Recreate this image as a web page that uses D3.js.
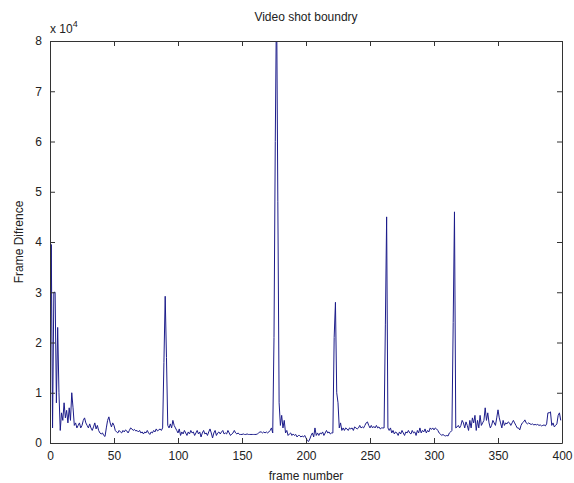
<!DOCTYPE html>
<html>
<head>
<meta charset="utf-8">
<script src="https://cdn.jsdelivr.net/npm/d3@7"></script>
<style>
  body { margin: 0; background: #fff; }
  text { font-family: "Liberation Sans", Arial, sans-serif; fill: #222; }
</style>
</head>
<body>
<svg id="chart"></svg>
<script>
// frame difference values, in units of 10^4, one per frame starting at frame 0
const frameDiff = [
  0.5, 3.95, 0.3, 3.0, 3.0, 0.8, 2.3, 1.0, 0.25, 0.6,
  0.45, 0.8, 0.5, 0.65, 0.4, 0.7, 0.45, 1.0, 0.7, 0.35,
  0.4, 0.3, 0.35, 0.4, 0.3, 0.35, 0.45, 0.5, 0.4, 0.35,
  0.3, 0.38, 0.3, 0.25, 0.32, 0.4, 0.28, 0.35, 0.25, 0.2,
  0.18, 0.2, 0.15, 0.13, 0.3, 0.45, 0.52, 0.4, 0.32, 0.4,
  0.35, 0.25, 0.22, 0.2, 0.25, 0.22, 0.2, 0.25, 0.22, 0.26,
  0.24, 0.2, 0.25, 0.3, 0.28, 0.25, 0.27, 0.24, 0.25, 0.22,
  0.25, 0.2, 0.22, 0.18, 0.22, 0.2, 0.25, 0.2, 0.17, 0.22,
  0.2, 0.25, 0.22, 0.28, 0.24, 0.26, 0.28, 0.25, 0.3, 1.6,
  2.92, 1.7, 0.35, 0.3, 0.38, 0.3, 0.45, 0.35, 0.3, 0.25,
  0.2, 0.28, 0.15, 0.22, 0.18, 0.25, 0.2, 0.15, 0.22, 0.18,
  0.25, 0.2, 0.22, 0.15, 0.2, 0.25, 0.18, 0.22, 0.12, 0.2,
  0.25, 0.18, 0.2, 0.15, 0.22, 0.28, 0.2, 0.1, 0.2, 0.25,
  0.15, 0.2, 0.22, 0.18, 0.22, 0.25, 0.18, 0.2, 0.18, 0.25,
  0.2, 0.15, 0.18, 0.2, 0.25, 0.2, 0.18, 0.2, 0.17, 0.17,
  0.17, 0.18, 0.17, 0.17, 0.18, 0.17, 0.17, 0.17, 0.17, 0.17,
  0.17, 0.17, 0.18, 0.2, 0.22, 0.22, 0.2, 0.22, 0.2, 0.22,
  0.2, 0.22, 0.25, 0.3, 0.2, 2.1, 6.0, 9.0, 4.8, 0.8,
  0.35, 0.55, 0.3, 0.45, 0.2, 0.25, 0.15, 0.18, 0.2, 0.15,
  0.18, 0.15, 0.17, 0.12, 0.15, 0.15, 0.12, 0.14, 0.12, 0.15,
  0.1, 0.05, 0.03, 0.08, 0.15, 0.2, 0.12, 0.3, 0.15, 0.2,
  0.15, 0.2, 0.18, 0.22, 0.15, 0.2, 0.25, 0.2, 0.22, 0.18,
  0.2, 0.2, 2.1, 2.8, 1.0, 0.8, 0.3, 0.4, 0.25, 0.3,
  0.25, 0.3, 0.28, 0.25, 0.3, 0.28, 0.3, 0.25, 0.32, 0.3,
  0.28, 0.3, 0.35, 0.3, 0.32, 0.3, 0.35, 0.4, 0.42, 0.35,
  0.3, 0.35, 0.3, 0.33, 0.3, 0.35, 0.3, 0.32, 0.28, 0.3,
  0.3, 0.3, 2.35, 4.5, 0.3, 0.25, 0.3, 0.2, 0.25, 0.18,
  0.22, 0.2, 0.15, 0.22, 0.18, 0.25, 0.2, 0.15, 0.22, 0.2,
  0.25, 0.2, 0.18, 0.25, 0.2, 0.22, 0.15, 0.25, 0.2, 0.3,
  0.2, 0.25, 0.22, 0.28, 0.2, 0.25, 0.22, 0.3, 0.27, 0.3,
  0.26, 0.3, 0.28, 0.25, 0.2, 0.18, 0.15, 0.17, 0.15, 0.14,
  0.15, 0.14, 0.2, 0.22, 0.25, 2.4, 4.6, 0.3, 0.32, 0.35,
  0.3, 0.35, 0.45, 0.4, 0.3, 0.42, 0.35, 0.25, 0.45, 0.3,
  0.5, 0.4, 0.55, 0.25, 0.45, 0.3, 0.55, 0.35, 0.4, 0.45,
  0.7, 0.45, 0.6, 0.4, 0.3, 0.35, 0.45, 0.4, 0.35, 0.5,
  0.66, 0.5, 0.4, 0.3, 0.45, 0.35, 0.4, 0.38, 0.42, 0.4,
  0.35, 0.4, 0.45, 0.4, 0.35, 0.3, 0.3, 0.26, 0.35, 0.4,
  0.42, 0.46, 0.4, 0.38, 0.4, 0.38, 0.37, 0.38, 0.36, 0.37,
  0.36, 0.37, 0.35, 0.36, 0.34, 0.35, 0.36, 0.34, 0.38, 0.6,
  0.6, 0.62, 0.35, 0.4, 0.32, 0.35, 0.38, 0.55, 0.6, 0.45
];
const xTicks = [0, 50, 100, 150, 200, 250, 300, 350, 400];
const yTicks = [0, 1, 2, 3, 4, 5, 6, 7, 8];

const width = 574, height = 483;
const margin = { top: 41, right: 12, bottom: 40, left: 50 };

const svg = d3.select('#chart')
    .attr('width', width)
    .attr('height', height);

const x = d3.scaleLinear()
    .domain([0, 400])
    .range([margin.left, width - margin.right]);

const y = d3.scaleLinear()
    .domain([0, 8])
    .range([height - margin.bottom, margin.top]);

// clip so the tallest spike is cut at the top of the box
svg.append('clipPath').attr('id', 'plot-clip')
    .append('rect')
    .attr('x', x(0)).attr('y', y(8))
    .attr('width', x(400) - x(0)).attr('height', y(0) - y(8));

const line = d3.line()
    .x((d, i) => x(i))
    .y(d => y(d));

svg.append('path')
    .datum(frameDiff)
    .attr('clip-path', 'url(#plot-clip)')
    .attr('fill', 'none')
    .attr('stroke', '#1c1c8a')
    .attr('stroke-width', 1)
    .attr('d', line);

// axes, ticks pointing inward on all four sides
const tickLen = 5;
svg.append('g')
    .attr('transform', `translate(0, ${y(0)})`)
    .call(d3.axisBottom(x).tickValues(xTicks).tickSizeInner(-tickLen).tickSizeOuter(0).tickPadding(8))
    .call(g => g.selectAll('text').attr('font-size', 12));

svg.append('g')
    .attr('transform', `translate(0, ${y(8)})`)
    .call(d3.axisTop(x).tickValues(xTicks).tickSizeInner(-tickLen).tickSizeOuter(0).tickFormat(''));

svg.append('g')
    .attr('transform', `translate(${x(0)}, 0)`)
    .call(d3.axisLeft(y).tickValues(yTicks).tickSizeInner(-tickLen).tickSizeOuter(0).tickPadding(8))
    .call(g => g.selectAll('text').attr('font-size', 12));

svg.append('g')
    .attr('transform', `translate(${x(400)}, 0)`)
    .call(d3.axisRight(y).tickValues(yTicks).tickSizeInner(-tickLen).tickSizeOuter(0).tickFormat(''));

svg.selectAll('.domain, .tick line').attr('stroke', '#333');

// exponent label
const expo = svg.append('text')
    .attr('x', x(0))
    .attr('y', y(8) - 8)
    .attr('font-size', 12);
expo.append('tspan').text('x 10');
expo.append('tspan').attr('dy', -6).attr('font-size', 9).text('4');

svg.append('text')
    .attr('x', (x(0) + x(400)) / 2)
    .attr('y', 21)
    .attr('text-anchor', 'middle')
    .attr('font-size', 12)
    .text('Video shot boundry');

svg.append('text')
    .attr('x', (x(0) + x(400)) / 2)
    .attr('y', 480)
    .attr('text-anchor', 'middle')
    .attr('font-size', 12)
    .text('frame number');

svg.append('text')
    .attr('transform', `translate(23, ${(y(0) + y(8)) / 2}) rotate(-90)`)
    .attr('text-anchor', 'middle')
    .attr('font-size', 12)
    .text('Frame Difrence');
</script>
</body>
</html>
